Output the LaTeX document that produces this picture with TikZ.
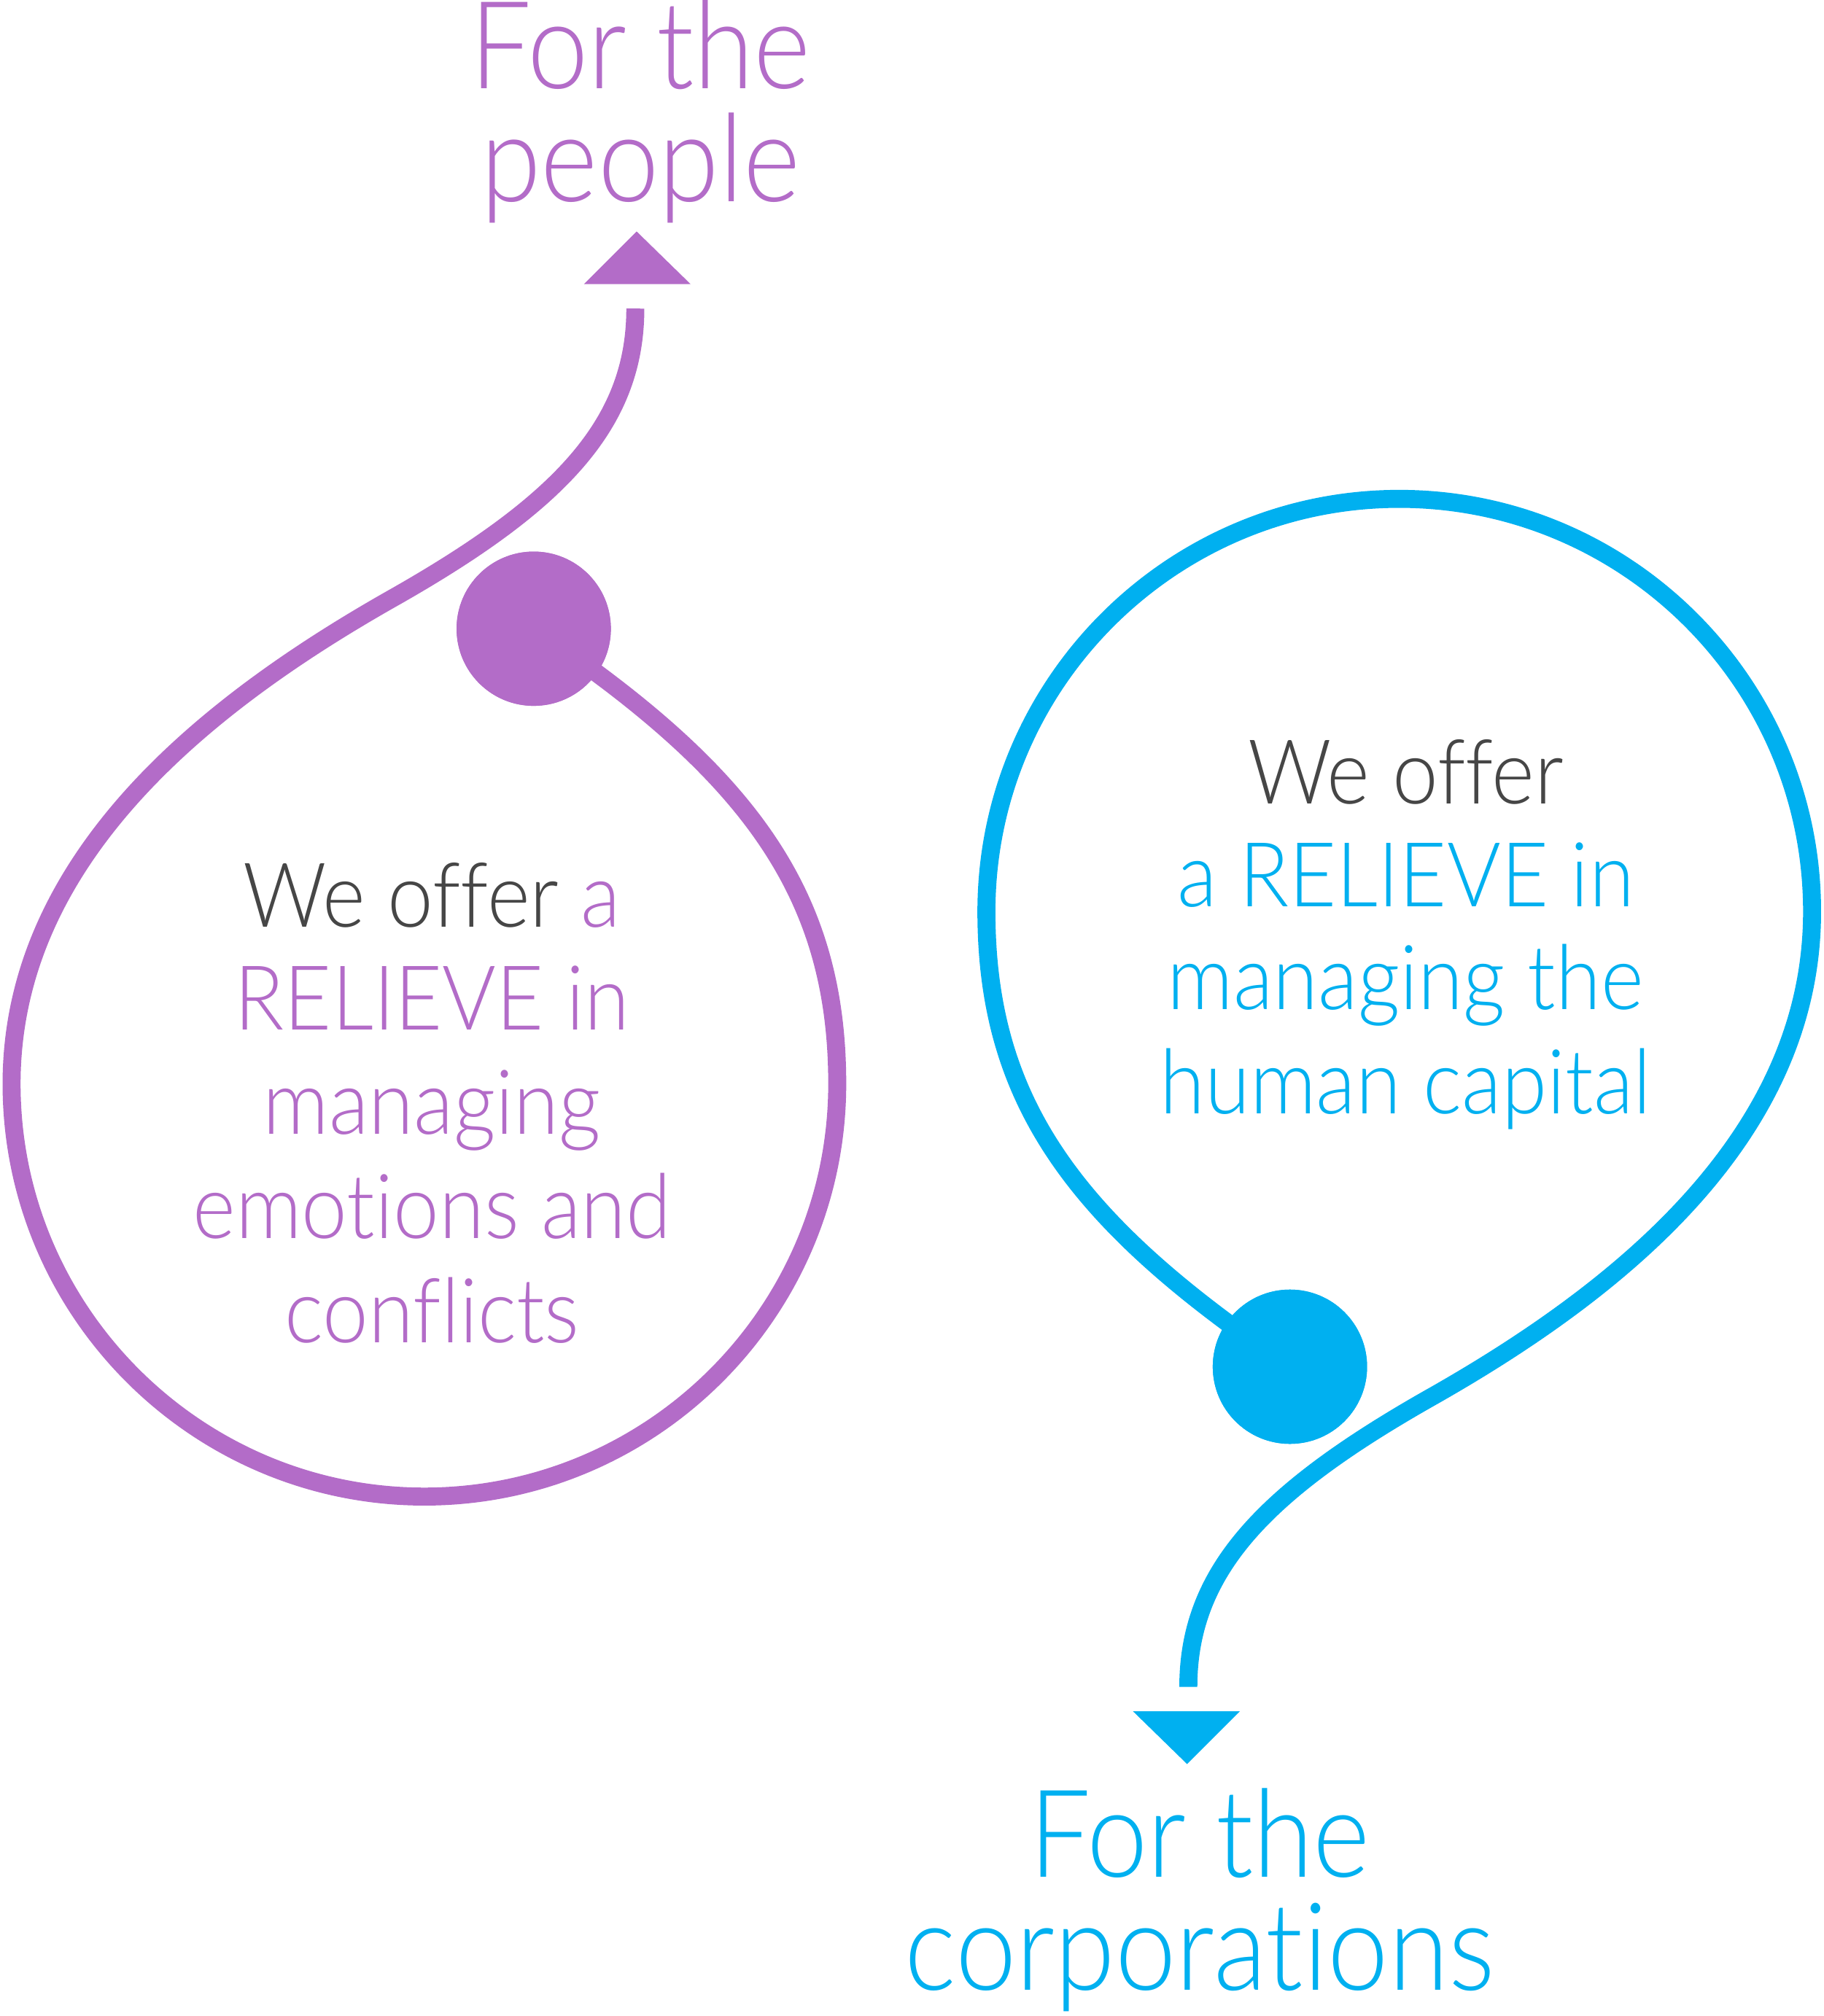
\documentclass[tikz,border=0pt]{standalone}
\usepackage{fontspec}
\setmainfont{Lato Light}[Ligatures=NoCommon]
\definecolor{ppl}{HTML}{B36CC8}
\definecolor{sky}{HTML}{00B0F0}
\definecolor{ink}{HTML}{464646}
\begin{document}
\begin{tikzpicture}[x=0.02cm,y=-0.02cm,
  wire/.style={line width=0.28cm},
  dot/.style={circle,fill,minimum size=2.4cm,inner sep=0pt},
  head/.style={font=\fontsize{54}{60}\selectfont,anchor=base,inner sep=0pt,xscale=0.895},
  body/.style={font=\fontsize{39.7}{45}\selectfont,anchor=base,inner sep=0pt,xscale=0.915}]
\useasboundingbox (0,0) rectangle (1418,1568);

% ---------- purple ----------
\node[dot,fill=ppl] (pcirc) at (415,489) {};
\coordinate (ptop) at (494,240);
\draw[wire,draw=ppl] (pcirc.center)
  .. controls (580,600) and (651,693) .. (651,843)
  .. controls (651,1020) and (507,1164) .. (330,1164)
  .. controls (153,1164) and (9,1020) .. (9,843)
  .. controls (9,670) and (156,550) .. (304,466)
  .. controls (435,392) and (494,330) .. (ptop);
\node[dot,fill=ppl] at (pcirc) {};
\fill[ppl] (454,221) -- (537,221) -- (495,180) -- cycle;

\node[head,text=ppl] (ph1) at (498,69) {For the};
\node[head,text=ppl] (ph2) at (498,157) {people};

\node[body] (pb1) at (336,721) {\textcolor{ink}{We offer} \textcolor{ppl}{a}};
\node[body,text=ppl] (pb2) at (336,801) {RELIEVE in};
\node[body,text=ppl] (pb3) at (336,882) {managing};
\node[body,text=ppl] (pb4) at (336,963) {emotions and};
\node[body,text=ppl] (pb5) at (336,1044) {conflicts};

% ---------- blue ----------
\begin{scope}[rotate around={180:(709,776)}]
\node[dot,fill=sky] (bcirc) at (415,489) {};
\coordinate (bbot) at (494,240);
\draw[wire,draw=sky] (bcirc.center)
  .. controls (580,600) and (651,693) .. (651,843)
  .. controls (651,1020) and (507,1164) .. (330,1164)
  .. controls (153,1164) and (9,1020) .. (9,843)
  .. controls (9,670) and (156,550) .. (304,466)
  .. controls (435,392) and (494,330) .. (bbot);
\node[dot,fill=sky] at (bcirc) {};
\fill[sky] (454,221) -- (537,221) -- (495,180) -- cycle;
\end{scope}

\node[body,text=ink] (bb1) at (1093,625) {We offer};
\node[body,text=sky] (bb2) at (1093,705) {a RELIEVE in};
\node[body,text=sky] (bb3) at (1093,785) {managing the};
\node[body,text=sky] (bb4) at (1093,866) {human capital};

\node[head,text=sky] (bh1) at (933,1460) {For the};
\node[head,text=sky] (bh2) at (933,1548) {corporations};
\end{tikzpicture}
\end{document}
